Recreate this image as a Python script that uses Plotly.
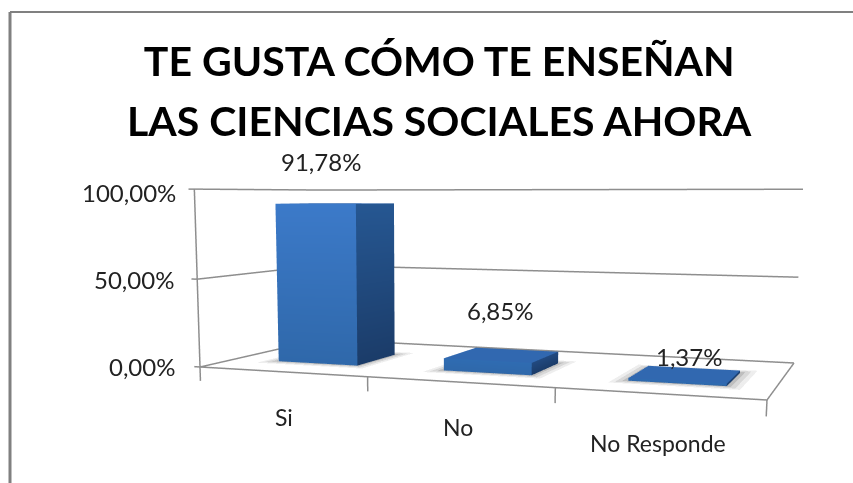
import math
import numpy as np
import plotly.graph_objects as go

categories = ["Si", "No", "No Responde"]
values = [91.78, 6.85, 1.37]
value_labels = ["91,78%", "6,85%", "1,37%"]
tick_values = [0, 50, 100]
tick_labels = ["0,00%", "50,00%", "100,00%"]
title_lines = ["TE GUSTA CÓMO TE ENSEÑAN", "LAS CIENCIAS SOCIALES AHORA"]

W, H = 853, 483
GRID = "#8e8e8e"
FONT = "Lato"

# camera (perspective, vertical fov 45 degrees as in plotly scenes)
f = (H / 2) / math.tan(math.pi / 8)
cx, cy = W / 2, H / 2
psi, tau = math.radians(10.4), math.radians(4.6)
R = np.array([math.cos(psi), math.sin(psi), 0.0])
F = np.array([-math.sin(psi) * math.cos(tau), math.cos(psi) * math.cos(tau), -math.sin(tau)])
U = np.cross(R, F)
E = np.array([0.0, 0.0, 0.97])


def ground(px, py):
    d = F + (px - cx) / f * R + (cy - py) / f * U
    return E + d * (-E[2] / d[2])


FL, FR, BR, BL = ground(200, 367), ground(767, 400), ground(794, 363), ground(321, 339.4)


def floor(u, v):
    return (1 - v) * ((1 - u) * FL + u * FR) + v * ((1 - u) * BL + u * BR)


def pt(u, v, val):
    p = floor(u, v)
    return [p[0], p[1], val]


n = len(categories)
bar_w, v0, v1, u_off = 0.49, 0.26, 0.62, 0.008
fig = go.Figure()


def line(points, color=GRID, width=3):
    a = np.array(points)
    fig.add_trace(go.Scatter3d(x=a[:, 0], y=a[:, 1], z=a[:, 2], mode="lines",
                               line=dict(color=color, width=width),
                               hoverinfo="skip", showlegend=False))


for t in tick_values:
    line([pt(-0.012, 0, t), pt(0, 0, t), pt(0, 1, t), pt(1, 1, t)])
line([pt(0, 0, 0), pt(0, 0, 100)])
line([pt(0, 0, 0), pt(1, 0, 0), pt(1, 1, 0)])
for i in range(n + 1):
    line([pt(i / n, 0, 0), pt(i / n, 0, -8)])

for i, val in enumerate(values):
    u0 = (i + 0.5 - bar_w / 2) / n + u_off
    u1 = (i + 0.5 + bar_w / 2) / n + u_off
    # soft floor shadow
    for grow, alpha in [(0.026, 0.10), (0.017, 0.14), (0.008, 0.20)]:
        s = np.array([pt(u0 - grow, v0 - grow * 3, 0.2), pt(u1 + grow, v0 - grow * 3, 0.2),
                      pt(u1 + grow, v1 + grow * 3, 0.2), pt(u0 - grow, v1 + grow * 3, 0.2)])
        fig.add_trace(go.Mesh3d(x=s[:, 0], y=s[:, 1], z=s[:, 2], i=[0, 0], j=[1, 2], k=[2, 3],
                                color="#555555", opacity=alpha,
                                lighting=dict(ambient=1, diffuse=0, specular=0, fresnel=0),
                                hoverinfo="skip", showlegend=False))
    verts, cols, tri = [], [], []

    def face(corners, colors):
        s = len(verts)
        verts.extend(corners)
        cols.extend(colors)
        tri.extend([(s, s + 1, s + 2), (s, s + 2, s + 3)])

    front_b, front_t = (47, 104, 170), (62, 124, 204)
    side_b, side_t = (27, 60, 105), (40, 90, 150)
    top_c = (49, 104, 176)
    ft = tuple(b + (a - b) * val / 100 for a, b in zip(front_t, front_b)) if val > 20 else (47, 108, 178)
    st = tuple(b + (a - b) * val / 100 for a, b in zip(side_t, side_b)) if val > 20 else (34, 74, 128)
    face([pt(u0, v0, 0), pt(u1, v0, 0), pt(u1, v0, val), pt(u0, v0, val)],
         [front_b, front_b, ft, ft])
    face([pt(u1, v0, 0), pt(u1, v1, 0), pt(u1, v1, val), pt(u1, v0, val)],
         [side_b, side_b, st, st])
    face([pt(u0, v0, val), pt(u1, v0, val), pt(u1, v1, val), pt(u0, v1, val)],
         [top_c] * 4)
    a = np.array(verts)
    t = np.array(tri)
    fig.add_trace(go.Mesh3d(
        x=a[:, 0], y=a[:, 1], z=a[:, 2], i=t[:, 0], j=t[:, 1], k=t[:, 2],
        vertexcolor=["rgb(%d,%d,%d)" % c for c in cols],
        lighting=dict(ambient=1, diffuse=0, specular=0, fresnel=0, roughness=1),
        flatshading=True, hoverinfo="skip", showlegend=False))

annots = []
label_x = [-11, 2, 8]
label_y = [42, 44, 18]
cat_x = [2, -1, 0]
cat_y = [-45, -45, -49]
tick_x = [-23, -21, -16]
tick_y = [0, 0, -3]
for i, c in enumerate(categories):
    p = pt((i + 0.5) / n, 0, 0)
    annots.append(dict(x=p[0], y=p[1], z=0, text=c, showarrow=False,
                       xshift=cat_x[i], yshift=cat_y[i],
                       font=dict(family=FONT, size=23, color="#222222")))
    q = pt((i + 0.5) / n, (v0 + v1) / 2, values[i])
    annots.append(dict(x=q[0], y=q[1], z=values[i], text=value_labels[i], showarrow=False,
                       xshift=label_x[i], yshift=label_y[i],
                       font=dict(family=FONT, size=24, color="#222222")))
for j, (t, lab) in enumerate(zip(tick_values, tick_labels)):
    p = pt(0, 0, t)
    annots.append(dict(x=p[0], y=p[1], z=t, text=lab, showarrow=False, xanchor="right",
                       xshift=tick_x[j], yshift=tick_y[j], font=dict(family=FONT, size=24, color="#222222")))

corners = np.array([FL, FR, BR, BL])
pad = 0.3
lo = corners.min(axis=0) - pad
hi = corners.max(axis=0) + pad
zlo, zhi = -0.2, 1.2
center = np.array([(lo[0] + hi[0]) / 2, (lo[1] + hi[1]) / 2, (zlo + zhi) / 2])
eye = E - center
look = E + F - center

fig.update_layout(
    width=W, height=H, margin=dict(l=0, r=0, t=0, b=0),
    paper_bgcolor="white", showlegend=False,
    title=dict(text=title_lines[0], x=0.515, xanchor="center", y=1 - 62 / H, yanchor="middle",
               font=dict(family=FONT, size=41, color="#000000", weight="bold")),
    annotations=[dict(text=title_lines[1], xref="paper", yref="paper", x=439 / W, y=1 - 120 / H,
                      xanchor="center", yanchor="middle", showarrow=False,
                      font=dict(family=FONT, size=41, color="#000000", weight="bold"))],
    scene=dict(
        domain=dict(x=[0, 1], y=[0, 1]),
        xaxis=dict(visible=False, range=[lo[0], hi[0]]),
        yaxis=dict(visible=False, range=[lo[1], hi[1]]),
        zaxis=dict(visible=False, range=[zlo * 100, zhi * 100]),
        aspectmode="manual",
        aspectratio=dict(x=hi[0] - lo[0], y=hi[1] - lo[1], z=zhi - zlo),
        camera=dict(eye=dict(x=eye[0], y=eye[1], z=eye[2]),
                    center=dict(x=look[0], y=look[1], z=look[2]),
                    up=dict(x=0, y=0, z=1)),
        annotations=annots,
    ),
    shapes=[
        dict(type="line", xref="paper", yref="paper", x0=10 / W, x1=10 / W, y0=0, y1=1 - 12 / H,
             line=dict(color="#808080", width=3)),
        dict(type="line", xref="paper", yref="paper", x0=10 / W, x1=1, y0=1 - 12 / H, y1=1 - 12 / H,
             line=dict(color="#808080", width=2)),
    ],
)
fig.write_html("out.html", post_script="document.body.style.margin='0';",
               config=dict(displayModeBar=False))
